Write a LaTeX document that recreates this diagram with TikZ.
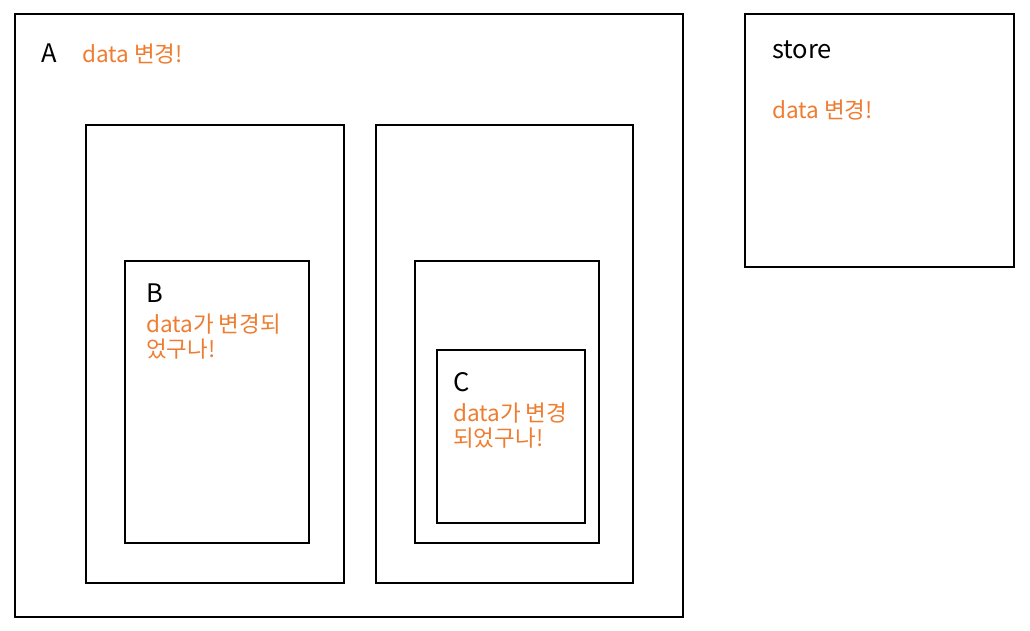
\documentclass[tikz,border=0pt]{standalone}
\usepackage{fontspec}
\setmainfont{Noto Sans CJK KR}
\definecolor{orng}{HTML}{EE7D31}
\begin{document}
\begin{tikzpicture}[x=1pt,y=-1pt,
  box/.style={draw=black,line width=1.6pt},
  lbl/.style={anchor=base west,inner sep=0pt,font=\fontsize{25.5}{28}\selectfont},
  msg/.style={anchor=base west,inner sep=0pt,align=left,text=orng,font=\fontsize{22.5}{25}\selectfont}]
\useasboundingbox (0,0) rectangle (1030,630);
\draw[box] (15,14) rectangle (683,617);
\draw[box] (745,14) rectangle (1014,267);
\draw[box] (86,125) rectangle (344,583);
\draw[box] (125,261) rectangle (309,543);
\draw[box] (376,125) rectangle (633,583);
\draw[box] (415,261) rectangle (599,543);
\draw[box] (437,350) rectangle (585,523);
\node[lbl] (la) at (41,62) {A};
\node[msg] (ma) at (82,62) {data 변경!};
\node[lbl] (ls) at (772,58) {store};
\node[msg] (ms) at (772,118) {data 변경!};
\node[lbl] (lb) at (146,302) {B};
\node[msg] (mb) at (146,357) {data가 변경되\\었구나!};
\node[lbl] (lc) at (453,391) {C};
\node[msg] (mc) at (453,446) {data가 변경\\되었구나!};
\end{tikzpicture}
\end{document}
